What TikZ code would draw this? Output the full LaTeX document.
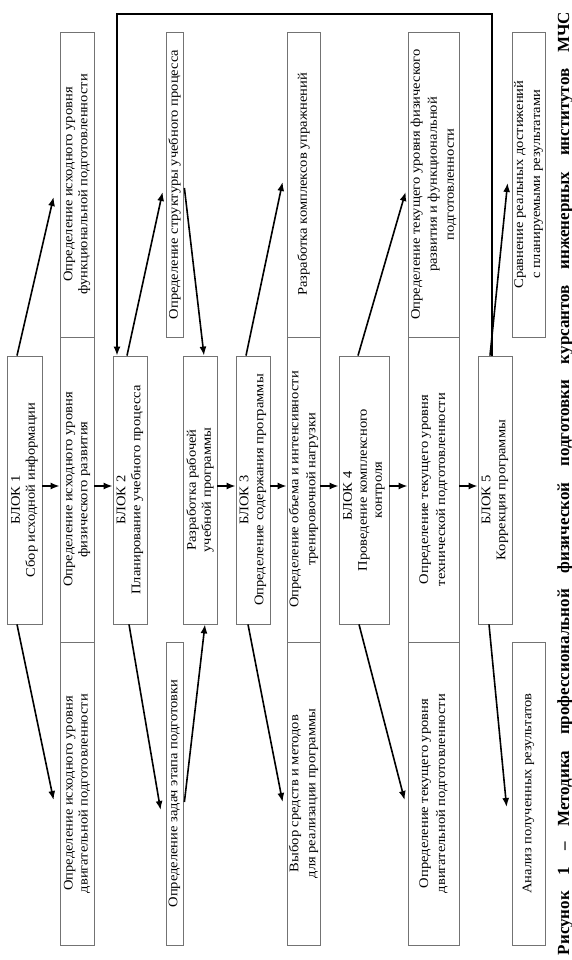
\documentclass[tikz,border=0pt]{standalone}
\usepackage{fontspec}
\setmainfont{Liberation Serif}
\newfontfamily\bodyfont[FakeStretch=1.1]{Liberation Serif}
\usetikzlibrary{arrows.meta,calc}
\begin{document}
\begin{tikzpicture}[x=1pt,y=-1pt,
  box/.style={draw=black!55, line width=0.8pt, rotate=90, inner sep=0pt, align=center,
    font=\bodyfont\fontsize{13.2}{15}\selectfont},
  wide/.style={font=\bodyfont\fontsize{13.2}{17}\selectfont},
  arr/.style={line width=1.6pt, -{Latex[length=9pt,width=7pt]}},
  ]
\useasboundingbox (0,0) rectangle (571,960);
% blocks
\node[box, minimum width=268pt, minimum height=35pt] (b1) at (24.5,490) {БЛОК 1\hspace*{20pt}\\Сбор исходной информации};
\node[box, minimum width=268pt, minimum height=34pt] (b2) at (130,490) {БЛОК 2\hspace*{20pt}\\Планирование учебного процесса};
\node[box, minimum width=268pt, minimum height=34pt] (R) at (200,490) {Разработка рабочей\\учебной программы};
\node[box, minimum width=268pt, minimum height=34pt] (b3) at (253,490) {БЛОК 3\hspace*{20pt}\\Определение содержания программы};
\node[box, minimum width=268pt, minimum height=50pt] (b4) at (364,490) {БЛОК 4\hspace*{12pt}\\Проведение комплексного\\контроля};
\node[box, minimum width=268pt, minimum height=34pt] (b5) at (495,490) {БЛОК 5\hspace*{20pt}\\Коррекция программы};
% column A
\node[box, minimum width=305pt, minimum height=34pt] (A1) at (77,184.5) {Определение исходного уровня\\функциональной подготовленности};
\node[box, minimum width=305pt, minimum height=34pt] (A2) at (77,489.5) {Определение исходного уровня\\физического развития};
\node[box, minimum width=303pt, minimum height=34pt] (A3) at (77,793.5) {Определение исходного уровня\\двигательной подготовленности};
% column B
\node[box, minimum width=305pt, minimum height=17pt] (B1) at (174.5,184.5) {Определение структуры учебного процесса};
\node[box, minimum width=303pt, minimum height=17pt] (B3) at (174.5,793.5) {Определение задач этапа подготовки};
% column C
\node[box, wide, minimum width=305pt, minimum height=33pt] (C1) at (303.5,184.5) {Разработка комплексов упражнений};
\node[box, wide, minimum width=305pt, minimum height=33pt] (C2) at (303.5,489.5) {Определение объема и интенсивности\\тренировочной нагрузки};
\node[box, wide, minimum width=303pt, minimum height=33pt] (C3) at (303.5,793.5) {Выбор средств и методов\\для реализации программы};
% column D
\node[box, wide, minimum width=305pt, minimum height=51pt] (D1) at (433.5,184.5) {Определение текущего уровня физического\\развития и функциональной\\подготовленности};
\node[box, wide, minimum width=305pt, minimum height=51pt] (D2) at (433.5,489.5) {Определение текущего уровня\\технической подготовленности};
\node[box, wide, minimum width=303pt, minimum height=51pt] (D3) at (433.5,793.5) {Определение текущего уровня\\двигательной подготовленности};
% column E
\node[box, wide, minimum width=305pt, minimum height=33pt] (E1) at (528.5,184.5) {Сравнение реальных достижений\\с планируемыми результатами};
\node[box, wide, minimum width=303pt, minimum height=33pt] (E3) at (528.5,793.5) {Анализ полученных результатов};
% caption
\node[rotate=90, inner sep=0pt, anchor=base, font=\bfseries\fontsize{17}{19}\selectfont] (cap) at (569,483.5)
  {\makebox[943pt][s]{Рисунок 1 – Методика профессиональной физической подготовки курсантов инженерных институтов МЧС}};
% horizontal arrows
\coordinate (h) at (0,486);
\draw[arr] (b1.south |- h) -- (A2.north |- h);
\draw[arr] (A2.south |- h) -- (b2.north |- h);
\draw[arr] (R.south |- h) -- (b3.north |- h);
\draw[arr] (b3.south |- h) -- (C2.north |- h);
\draw[arr] (C2.south |- h) -- (b4.north |- h);
\draw[arr] (b4.south |- h) -- (D2.north |- h);
\draw[arr] (D2.south |- h) -- (b5.north |- h);
% diagonal arrows
\draw[arr] ([xshift=-7.5pt]b1.east) -- ([xshift=-6pt,yshift=-12.5pt]A1.north);
\draw[arr] ([xshift=-7.5pt]b1.west) -- ([xshift=-6pt,yshift=-6.5pt]A3.north);
\draw[arr] ([xshift=-3pt]b2.east) -- ([xshift=-3pt,yshift=-7.5pt]B1.north);
\draw[arr] ([xshift=-1pt]b2.west) -- ([xshift=-5pt,yshift=-16.5pt]B3.north);
\draw[arr] ([xshift=1pt,yshift=-3.5pt]B1.south) -- ([xshift=4pt]R.east);
\draw[arr] ([xshift=1pt,yshift=-8.5pt]B3.south) -- ([xshift=5pt]R.west);
\draw[arr] ([xshift=-7pt]b3.east) -- ([xshift=-4pt,yshift=2.5pt]C1.north);
\draw[arr] ([xshift=-5pt]b3.west) -- ([xshift=-4pt,yshift=-8.5pt]C3.north);
\draw[arr] ([xshift=-6pt]b4.east) -- ([xshift=-2pt,yshift=-7.5pt]D1.north);
\draw[arr] ([xshift=-5pt]b4.west) -- ([xshift=-3pt,yshift=-6.5pt]D3.north);
\draw[arr] ([xshift=-5pt]b5.east) -- ([xshift=-4pt,yshift=1.5pt]E1.north);
\draw[arr] ([xshift=-6pt]b5.west) -- ([xshift=-5pt,yshift=-13.5pt]E3.north);
% feedback loop
\coordinate (fbA) at ([xshift=-3pt]b5.east);
\coordinate (fbB) at ([xshift=-13pt]b2.east);
\coordinate (fbTop) at (0,14);
\draw[arr] (fbA) -- (fbA |- fbTop) -- (fbB |- fbTop) -- (fbB);
\end{tikzpicture}
\end{document}
